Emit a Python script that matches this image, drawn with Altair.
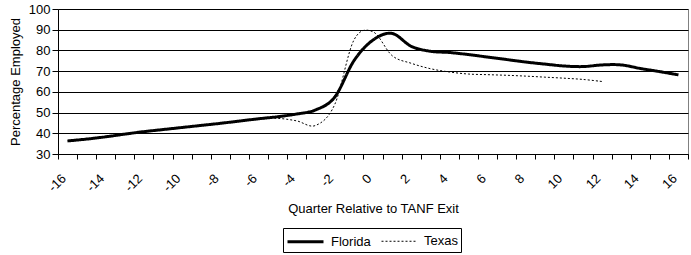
import altair as alt
import pandas as pd

quarters = list(range(-16, 17))
florida = [36.3, 37.2, 38.3, 39.6, 40.8, 41.8, 42.8, 43.8, 44.8, 45.9, 47.0, 48.0,
           49.3, 51.3, 57.5, 75.0, 85.0, 88.2, 82.0, 79.6, 79.0, 78.0, 76.8, 75.6,
           74.4, 73.4, 72.5, 72.2, 73.0, 73.0, 71.3, 69.8, 68.2]
texas_quarters = list(range(-16, 13))
texas = [36.3, 37.2, 38.3, 39.6, 40.8, 41.8, 42.8, 43.8, 44.8, 45.9, 46.8, 47.2,
         46.0, 43.8, 54.0, 85.0, 89.0, 77.5, 73.8, 71.2, 69.6, 68.6, 68.3, 68.0,
         67.6, 67.1, 66.6, 66.0, 65.0]
series_names = ["Florida", "Texas"]
y_ticks = [30, 40, 50, 60, 70, 80, 90, 100]

df = pd.concat([
    pd.DataFrame({"q": quarters, "v": florida, "s": series_names[0]}),
    pd.DataFrame({"q": texas_quarters, "v": texas, "s": series_names[1]}),
])

FONT = "Liberation Sans"

leg = alt.Legend(
    title=None, orient="none", legendX=225, legendY=219, direction="horizontal",
    symbolType="M-2,0H2", symbolSize=324, symbolOffset=9, symbolStrokeColor="black",
    labelFont=FONT, labelFontSize=13, labelColor="black", labelOffset=15,
    strokeColor="black", padding=3, columnPadding=8,
)

chart = alt.Chart(df).mark_line(interpolate="cardinal", color="black").encode(
    x=alt.X("q:O",
            scale=alt.Scale(domain=quarters, paddingInner=0, paddingOuter=0),
            axis=alt.Axis(title="Quarter Relative to TANF Exit",
                          labelExpr="datum.value % 2 == 0 ? datum.label : ''",
                          labelAngle=-45, labelAlign="right", labelBaseline="middle",
                          labelPadding=17, labelOffset=-4,
                          labelOverlap=False, labelBound=False,
                          tickBand="extent", tickSize=5, tickColor="black",
                          domainColor="black", grid=False,
                          titleY=54, titleBaseline="middle")),
    y=alt.Y("v:Q",
            scale=alt.Scale(domain=[30, 100], nice=False, zero=False),
            axis=alt.Axis(title="Percentage Employed", values=y_ticks,
                          tickSize=6, labelPadding=2, tickColor="black",
                          domainColor="black", grid=True, gridColor="black",
                          gridOpacity=1, titleX=-43, titleBaseline="middle")),
    strokeDash=alt.StrokeDash("s:N",
                              scale=alt.Scale(domain=series_names, range=[[1, 0], [2, 2]]),
                              legend=leg),
    strokeWidth=alt.StrokeWidth("s:N",
                                scale=alt.Scale(domain=series_names, range=[3, 1]),
                                legend=leg),
).properties(
    width=630, height=145,
    background="white",
    autosize=alt.AutoSizeParams(type="none"),
    padding={"left": 58, "top": 9, "right": 3, "bottom": 101},
).configure_view(
    stroke="#808080", strokeWidth=1,
).configure_axis(
    labelFont=FONT, titleFont=FONT, labelFontSize=13, titleFontSize=13,
    labelColor="black", titleColor="black", titleFontWeight="normal",
)

chart.save("out.html", embed_options={"renderer": "svg", "actions": False})
